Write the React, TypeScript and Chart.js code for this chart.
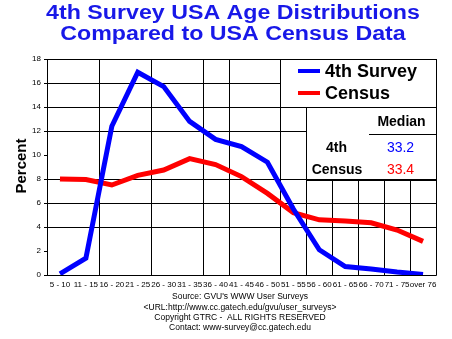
import React, { useEffect, useRef } from "react";
import { Chart, registerables } from "chart.js";

Chart.register(...registerables);

const categories = [
  "5 - 10", "11 - 15", "16 - 20", "21 - 25", "26 - 30", "31 - 35", "36 - 40",
  "41 - 45", "46 - 50", "51 - 55", "56 - 60", "61 - 65", "66 - 70", "71 - 75", "over 76",
];
const survey4th = [0.1, 1.4, 12.4, 16.9, 15.7, 12.8, 11.3, 10.7, 9.4, 5.5, 2.1, 0.7, 0.5, 0.25, 0.05];
const census = [8.0, 7.95, 7.5, 8.3, 8.75, 9.7, 9.2, 8.2, 6.8, 5.2, 4.6, 4.5, 4.35, 3.75, 2.8];
const gridValues = [4, 6, 8, 12, 14, 16];
const gridBoundaries = [2, 4, 6, 7, 9, 10, 11, 12, 13, 14];
const titleLines = ["4th Survey USA Age Distributions", "Compared to USA Census Data"];
const footerLines = [
  "Source: GVU's WWW User Surveys",
  "<URL:http://www.cc.gatech.edu/gvu/user_surveys>",
  "Copyright GTRC -  ALL RIGHTS RESERVED",
  "Contact: www-survey@cc.gatech.edu",
];
const medianSurvey = "33.2";
const medianCensus = "33.4";

const BLUE = "#0000ff";
const RED = "#ff0000";
const TITLE_BLUE = "#1818e8";
const FONT = "Arial, 'Liberation Sans', sans-serif";

const decorPlugin = {
  id: "decor",
  beforeDatasetsDraw(chart: any) {
    const { ctx, chartArea } = chart;
    const x = chart.scales.x;
    const y = chart.scales.y;
    const bnd = (k: number) =>
      k >= categories.length ? chartArea.right : (x.getPixelForValue(k - 1) + x.getPixelForValue(k)) / 2;
    const snap = (v: number) => Math.round(v) + 0.5;
    ctx.save();
    ctx.strokeStyle = "#000";
    ctx.lineWidth = 1;
    for (const v of gridValues) {
      const py = snap(y.getPixelForValue(v));
      ctx.beginPath();
      ctx.moveTo(chartArea.left, py);
      ctx.lineTo(chartArea.right, py);
      ctx.stroke();
    }
    for (const k of gridBoundaries) {
      const px = snap(bnd(k));
      ctx.beginPath();
      ctx.moveTo(px, chartArea.top);
      ctx.lineTo(px, chartArea.bottom);
      ctx.stroke();
    }
    ctx.beginPath();
    ctx.rect(snap(chartArea.left), snap(chartArea.top), Math.round(chartArea.right - chartArea.left), Math.round(chartArea.bottom - chartArea.top));
    ctx.stroke();

    // legend box
    const lx0 = snap(bnd(9));
    const lx1 = snap(chartArea.right);
    const ly0 = snap(y.getPixelForValue(18));
    const ly1 = snap(y.getPixelForValue(14));
    ctx.fillStyle = "#fff";
    ctx.fillRect(lx0 + 0.5, ly0 + 0.5, lx1 - lx0 - 1, ly1 - ly0 - 1);
    ctx.strokeRect(lx0, ly0, lx1 - lx0, ly1 - ly0);

    // median box
    const mx0 = snap(bnd(10));
    const my1 = snap(y.getPixelForValue(8));
    ctx.fillRect(mx0 + 0.5, ly1 + 0.5, lx1 - mx0 - 1, my1 - ly1 - 1);
    ctx.strokeRect(mx0, ly1, lx1 - mx0, my1 - ly1);
    ctx.lineWidth = 2;
    ctx.beginPath();
    ctx.moveTo(mx0, my1 + 0.5);
    ctx.lineTo(lx1, my1 + 0.5);
    ctx.stroke();
    ctx.lineWidth = 1;
    ctx.beginPath();
    ctx.moveTo(369, 134.5);
    ctx.lineTo(lx1, 134.5);
    ctx.stroke();

    // legend swatches + text
    ctx.lineWidth = 4;
    ctx.strokeStyle = BLUE;
    ctx.beginPath();
    ctx.moveTo(298, 71);
    ctx.lineTo(320, 71);
    ctx.stroke();
    ctx.strokeStyle = RED;
    ctx.beginPath();
    ctx.moveTo(298, 93);
    ctx.lineTo(320, 93);
    ctx.stroke();
    ctx.fillStyle = "#000";
    ctx.textBaseline = "alphabetic";
    ctx.textAlign = "left";
    ctx.font = `bold 18px ${FONT}`;
    ctx.fillText("4th Survey", 325, 77);
    ctx.fillText("Census", 325, 98.5);

    // median table
    ctx.font = `bold 14px ${FONT}`;
    ctx.textAlign = "center";
    ctx.fillText("Median", 401.5, 126);
    ctx.fillText("4th", 336.5, 152);
    ctx.fillText("Census", 337, 174);
    ctx.font = `14px ${FONT}`;
    ctx.fillStyle = BLUE;
    ctx.fillText(medianSurvey, 400.5, 152);
    ctx.fillStyle = RED;
    ctx.fillText(medianCensus, 400.5, 174);
    ctx.restore();
  },
  afterDraw(chart: any) {
    const { ctx } = chart;
    ctx.save();
    ctx.textAlign = "center";
    ctx.textBaseline = "alphabetic";
    ctx.fillStyle = TITLE_BLUE;
    ctx.font = `bold 20px ${FONT}`;
    const titleY = [18.5, 40];
    titleLines.forEach((t, i) => {
      ctx.save();
      ctx.translate(233, titleY[i]);
      ctx.scale(1.16, 1);
      ctx.fillText(t, 0, 0);
      ctx.restore();
    });

    ctx.fillStyle = "#000";
    ctx.font = `8.5px ${FONT}`;
    ctx.textBaseline = "middle";
    const ys = [297, 307.5, 317.5, 327.5];
    footerLines.forEach((t, i) => ctx.fillText(t, 240, ys[i]));

    ctx.translate(22, 166);
    ctx.rotate(-Math.PI / 2);
    ctx.font = `bold 15px ${FONT}`;
    ctx.fillText("Percent", 0, 0);
    ctx.restore();
  },
};

export default function App() {
  const ref = useRef<HTMLCanvasElement>(null);
  useEffect(() => {
    if (!ref.current) return;
    const chart = new Chart(ref.current, {
      type: "line",
      data: {
        labels: categories,
        datasets: [
          { label: "4th Survey", data: survey4th, borderColor: BLUE, backgroundColor: BLUE, borderWidth: 5, pointRadius: 0, tension: 0 },
          { label: "Census", data: census, borderColor: RED, backgroundColor: RED, borderWidth: 5, pointRadius: 0, tension: 0 },
        ],
      },
      options: {
        responsive: false,
        animation: false,
        layout: { padding: { left: 0, top: 59, right: 16, bottom: 0 } },
        plugins: { legend: { display: false }, title: { display: false }, tooltip: { enabled: false } },
        scales: {
          x: {
            type: "category",
            offset: true,
            grid: { display: false, drawTicks: false, tickLength: 0 },
            border: { display: false },
            ticks: { color: "#000", font: { family: FONT, size: 8 }, maxRotation: 0, autoSkip: false, padding: 5 },
            afterFit: (s: any) => { s.height = 64; },
          },
          y: {
            min: 0,
            max: 18,
            grid: { drawOnChartArea: false, tickLength: 3, color: "#000" },
            border: { display: true, color: "#000" },
            ticks: {
              stepSize: 1,
              color: "#000",
              padding: 3,
              font: { family: FONT, size: 8 },
              callback: (v: any) => (Number(v) % 2 === 0 ? String(v) : ""),
            },
            afterFit: (s: any) => { s.width = 47; },
          },
        },
      },
      plugins: [decorPlugin],
    });
    return () => chart.destroy();
  }, []);
  return (
    <div style={{ position: "absolute", left: 0, top: 0, width: 452, height: 339, background: "#fff" }}>
      <canvas ref={ref} width={452} height={339} style={{ width: 452, height: 339 }} />
    </div>
  );
}
